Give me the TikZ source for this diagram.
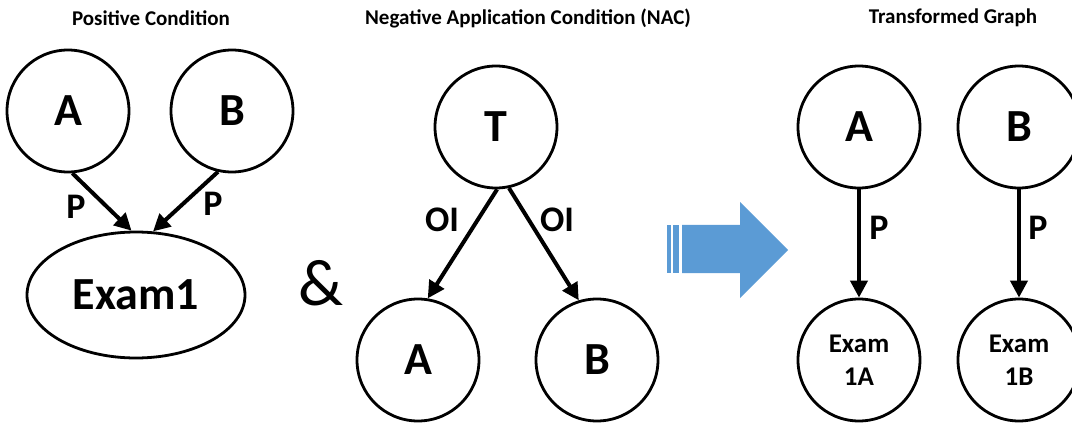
\documentclass[tikz,border=0pt]{standalone}
\usepackage{fontspec}
\setmainfont{Carlito}
\usetikzlibrary{shapes.geometric,arrows.meta}
\definecolor{flowblue}{RGB}{91,155,213}
\tikzset{
  vertex/.style={circle,draw,line width=2.8pt,minimum size=122pt,inner sep=0pt,
    font=\fontsize{46}{50}\selectfont\bfseries},
  small vertex/.style={vertex,font=\fontsize{27}{33}\selectfont\bfseries,align=center},
  edge/.style={line width=4pt,-{Triangle[length=17pt,width=17pt]}},
  elabel/.style={font=\fontsize{36}{40}\selectfont\bfseries},
  heading/.style={font=\fontsize{21}{24}\selectfont\bfseries}
}
\begin{document}
\begin{tikzpicture}[x=1pt,y=-1pt]
\useasboundingbox (0,0) rectangle (1072,425);

% headings
\node[heading] (h1) at (151,18) {Positive Condition};
\node[heading] (h2) at (528,18) {Negative Application Condition (NAC)};
\node[heading] (h3) at (953,18) {Transformed Graph};

% positive condition
\node[vertex] (pa) at (68,111) {A};
\node[vertex] (pb) at (232,111) {B};
\node[ellipse,draw,line width=2.8pt,minimum width=218pt,minimum height=126pt,inner sep=0pt,
  font=\fontsize{46}{50}\selectfont\bfseries] (pe) at (136,295) {Exam1};
\draw[edge] (pa.-86) -- (pe.94);
\draw[edge] (pb.-103) -- (pe.75);
\node[elabel] (pl1) at (76,207) {P};
\node[elabel] (pl2) at (213,204) {P};

% conjunction
\node[font=\fontsize{66}{70}\selectfont] (amp) at (321,283) {\&};

% negative application condition
\node[vertex] (nt) at (496,127) {T};
\node[vertex] (na) at (418,360) {A};
\node[vertex] (nb) at (597,360) {B};
\draw[edge] (nt.-89) -- (na.81);
\draw[edge] (nt.-78) -- (nb.107);
\node[elabel] (nl1) at (442,220) {OI};
\node[elabel] (nl2) at (557,220) {OI};

% transformation arrow
\fill[flowblue] (682,225) -- (740,225) -- (740,202) -- (788,250) -- (740,298)
  -- (740,273) -- (682,273) -- cycle;
\fill[flowblue] (667,225) rectangle (671,273);
\fill[flowblue] (673,225) rectangle (679,273);

% transformed graph
\node[vertex] (ta) at (859,127) {A};
\node[vertex] (tb) at (1019,127) {B};
\node[small vertex] (tea) at (859,360) {Exam\\1A};
\node[small vertex] (teb) at (1019,360) {Exam\\1B};
\draw[edge] (ta) -- (tea);
\draw[edge] (tb) -- (teb);
\node[elabel] (tl1) at (879,228) {P};
\node[elabel] (tl2) at (1038,228) {P};
\end{tikzpicture}
\end{document}
